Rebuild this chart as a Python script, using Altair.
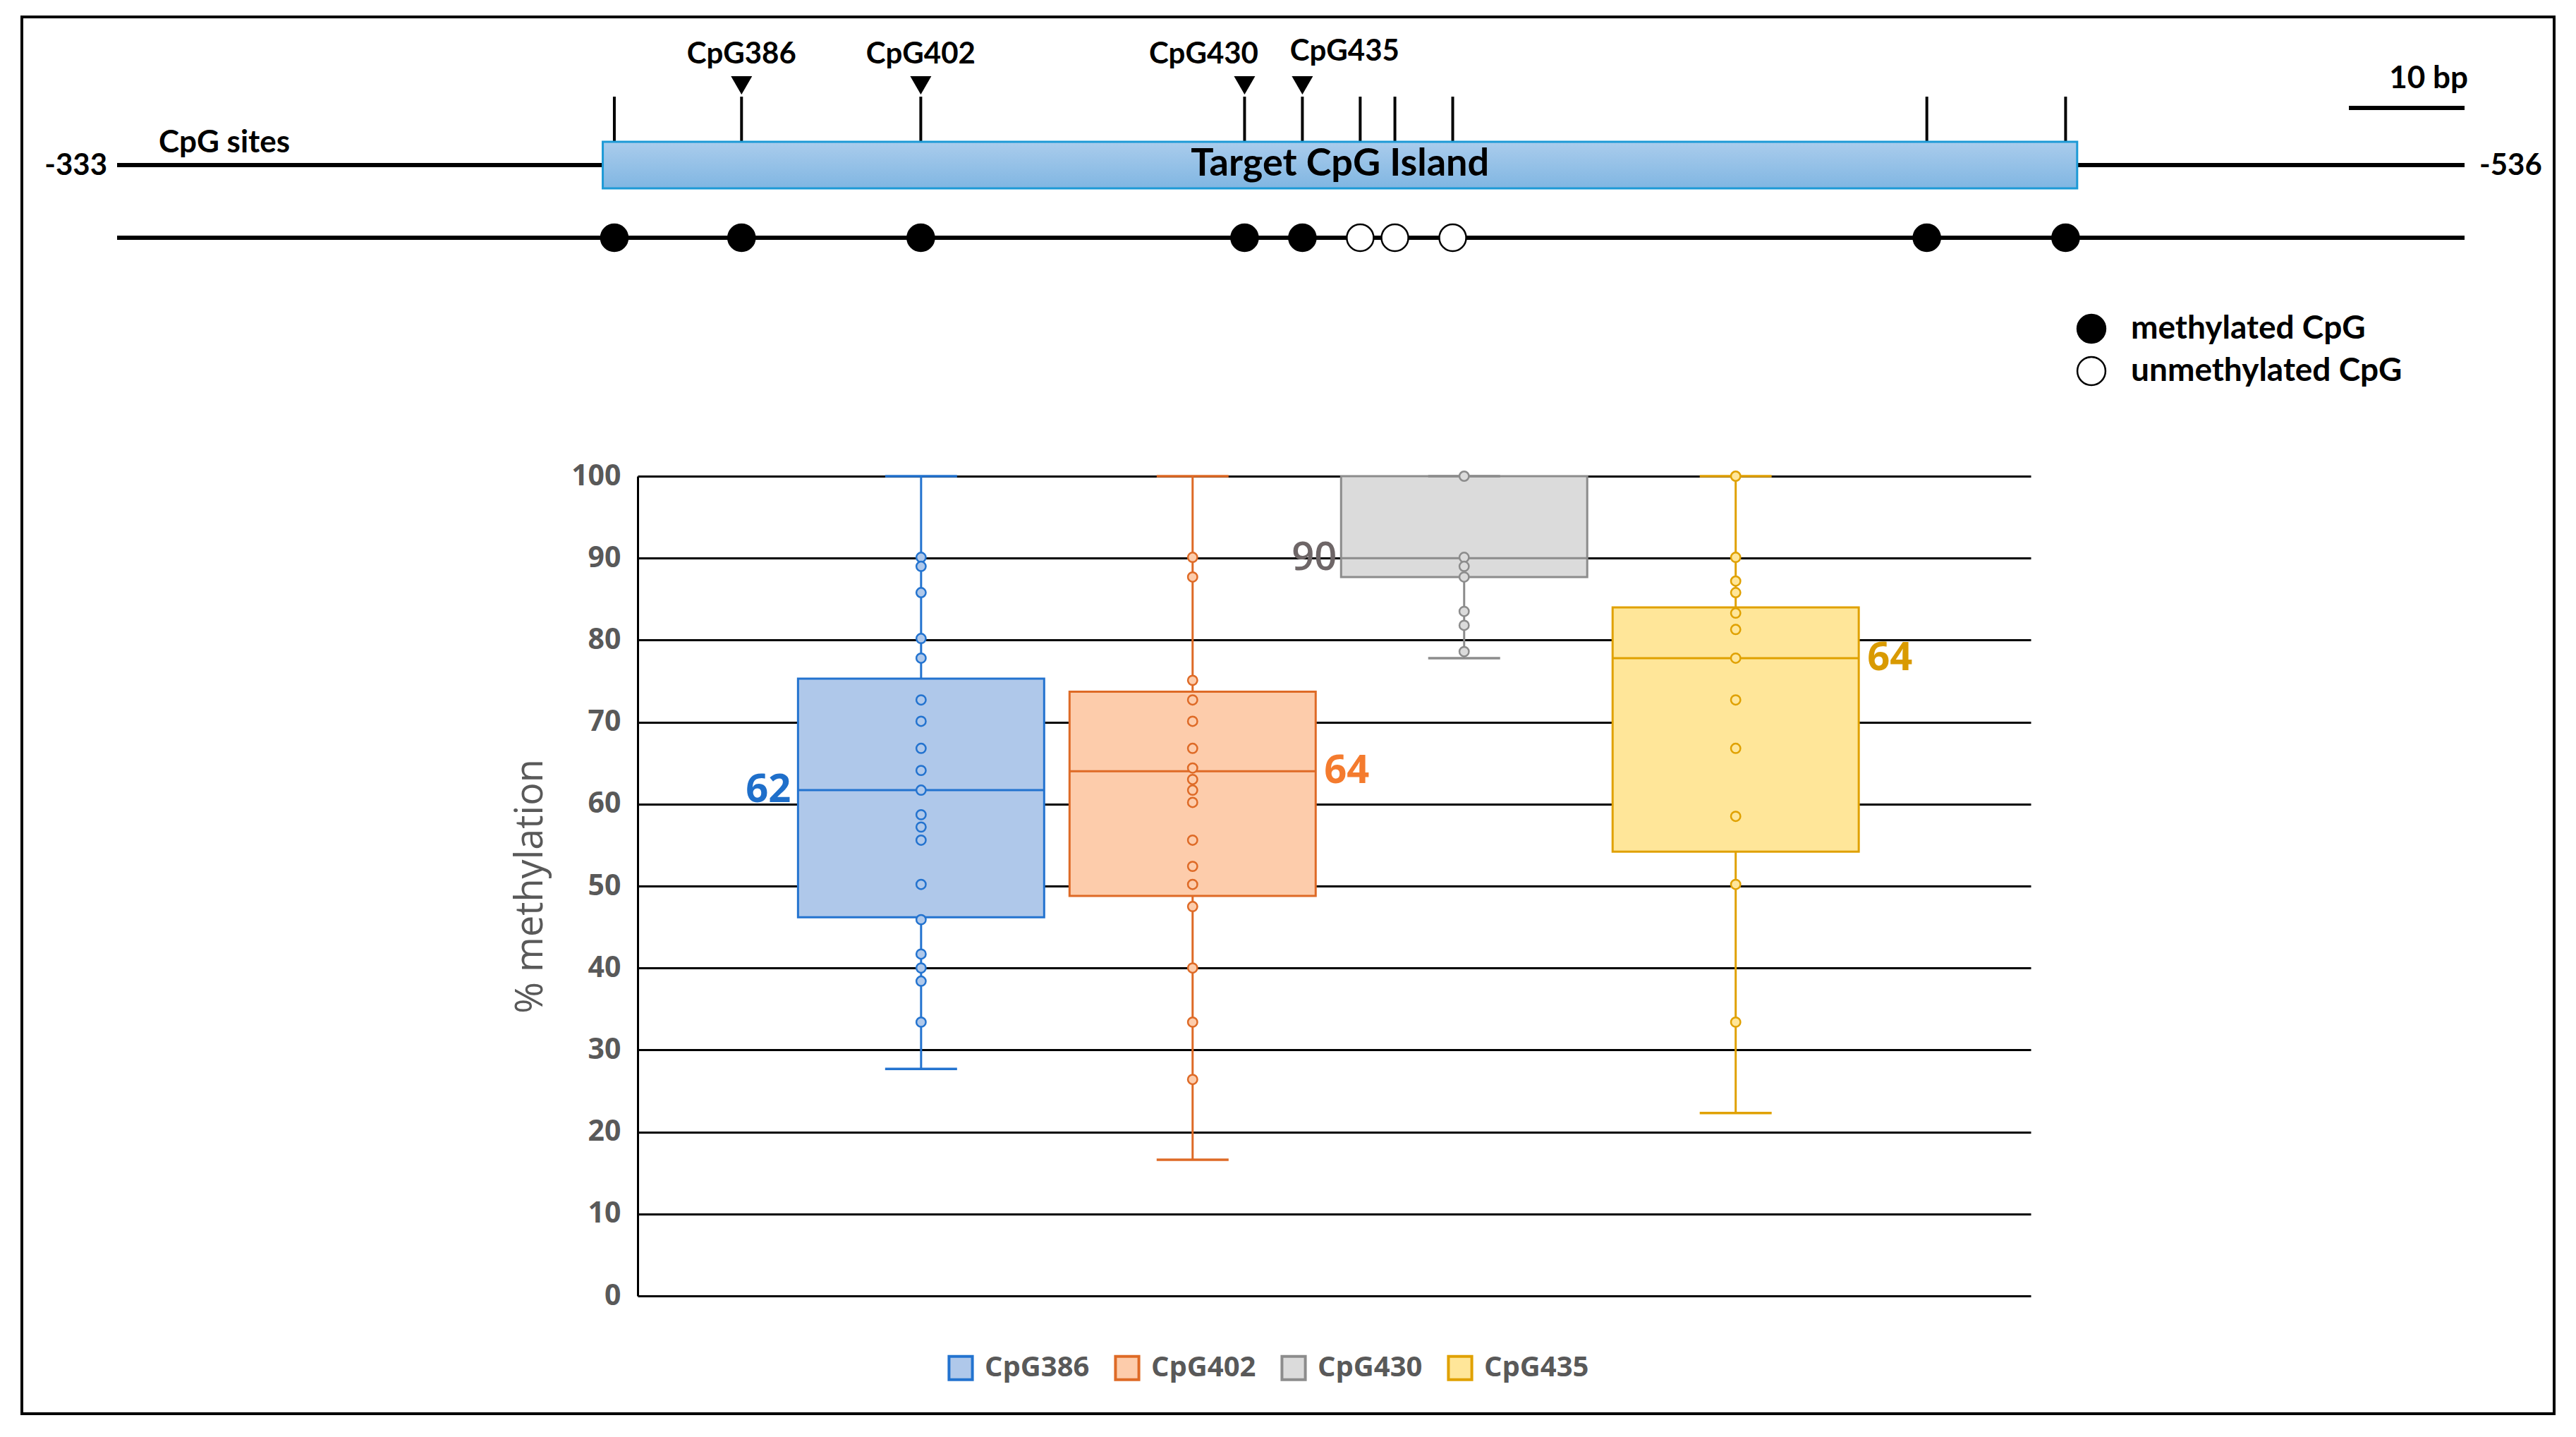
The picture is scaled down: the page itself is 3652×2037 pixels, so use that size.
import altair as alt
import pandas as pd

# ---------------- data ----------------
categories = ["CpG386", "CpG402", "CpG430", "CpG435"]
q1 = [46.2, 48.8, 87.7, 54.2]
median = [61.7, 64.0, 90.0, 77.8]
q3 = [75.3, 73.7, 100.0, 84.0]
whisker_low = [27.7, 16.6, 77.8, 22.3]
whisker_high = [100.0, 100.0, 100.0, 100.0]
median_labels = ["62", "64", "90", "64"]
label_side = ["left", "right", "left", "right"]

points_386 = [90.1, 89.0, 85.8, 80.2, 77.8, 72.7, 70.1, 66.8, 64.1, 61.7, 58.7,
              57.2, 55.6, 50.2, 45.9, 41.7, 40.0, 38.4, 33.4]
points_402 = [90.1, 87.7, 75.1, 72.7, 70.1, 66.8, 64.4, 63.0, 61.7, 60.2, 55.6,
              52.4, 50.2, 47.5, 40.0, 33.4, 26.4]
points_430 = [100.0, 90.1, 89.0, 87.7, 83.5, 81.8, 78.6]
points_435 = [100.0, 90.1, 87.2, 85.8, 83.3, 81.3, 77.8, 72.7, 66.8, 58.5, 50.2, 33.4]

y_ticks = [0, 10, 20, 30, 40, 50, 60, 70, 80, 90, 100]

region_ends = [-333, -536]
island = [-375, -502.5]
site_positions = [-376, -387, -402.5, -430.5, -435.5, -440.5, -443.5, -448.5, -489.5, -501.5]
site_status = ["methylated CpG"] * 5 + ["unmethylated CpG"] * 3 + ["methylated CpG"] * 2
marked_sites = ["CpG386", "CpG402", "CpG430", "CpG435"]
marked_positions = [-387, -402.5, -430.5, -435.5]
scale_bar = [-526, -536]
status_order = ["methylated CpG", "unmethylated CpG"]

# ---------------- styles ----------------
FILL = ["#AFC8EA", "#FDCCAB", "#DBDBDB", "#FFE699"]
STROKE = ["#2373CF", "#DE6A26", "#8C8C8C", "#E0A100"]
LABEL_COL = ["#1F6FCA", "#F47B2E", "#6E6667", "#D99A00"]
GREY_TXT = "#595959"
BOX_FONT = "Open Sans"
DIA_FONT = "Lato"

# ---------------- layout (pixels; plot area = the box-plot area) ----------------
PW, PH = 1975, 1162            # box-plot plot area
FX0, FY0 = 873, 651            # plot-area origin measured from the outer frame's corner
FRAME_W, FRAME_H = 3590, 1980  # outer frame


def fy(v):
    """vertical layout position, given from the frame's top edge"""
    return v - FY0


BP_RANGE = [135 - FX0, 3463 - FX0]
Y_LINE1, Y_LINE2 = fy(210), fy(313)
Y_ISL_TOP, Y_ISL_BOT = fy(177), fy(243)
Y_TICK_TOP = fy(113)
Y_TRI = fy(97)
Y_SITE_LABEL = fy(66)
Y_SCALEBAR = fy(129)
Y_SCALE_TXT = fy(101)
Y_SITES_TXT = fy(192)
BAND = 349

# ---------------- tables ----------------
summary = pd.DataFrame({"cat": categories, "q1": q1, "median": median, "q3": q3,
                        "lo": whisker_low, "hi": whisker_high,
                        "label": median_labels, "side": label_side})
pts = pd.DataFrame(
    [{"cat": c, "value": v} for c, vals in zip(categories, [points_386, points_402, points_430, points_435]) for v in vals]
)
ends_df = pd.DataFrame({"start": [region_ends[0]], "end": [region_ends[1]],
                        "start_lbl": [str(region_ends[0])], "end_lbl": [str(region_ends[1])]})
island_df = pd.DataFrame({"start": [island[0]], "end": [island[1]], "name": ["Target CpG Island"]})
sites_df = pd.DataFrame({"pos": site_positions, "status": site_status})
marked_df = pd.DataFrame({"name": marked_sites, "pos": marked_positions})
bar_df = pd.DataFrame({"start": [scale_bar[0]], "end": [scale_bar[1]],
                       "txt": [f"{abs(scale_bar[0] - scale_bar[1])} bp"]})
frame_df = pd.DataFrame({"frame": ["border"]})

# ---------------- box plot ----------------
xband = alt.X("cat:N", scale=alt.Scale(domain=categories, paddingInner=0.0935,
                                        paddingOuter=0.612, align=0.4825),
              axis=None)
yscale = alt.Scale(domain=[0, 100], nice=False, zero=True)

y_axis = alt.Axis(values=y_ticks, orient="left", grid=True,
                  gridColor="black", gridWidth=3, gridOpacity=1, domainColor="black", domainWidth=3,
                  ticks=False, labelFont=BOX_FONT, labelFontWeight="bold", labelFontSize=41,
                  labelColor=GREY_TXT, labelPadding=24, title="% methylation", titleFont=BOX_FONT,
                  titleFontWeight=500, titleFontSize=54, titleColor=GREY_TXT, titlePadding=30)


def yq(field):
    return alt.Y(field, scale=yscale, axis=y_axis)


cat_legend = alt.Legend(orient="none", legendX=438, legendY=1244, direction="horizontal", title=None,
                        symbolType="square", symbolSize=1100, symbolStrokeWidth=4,
                        labelFont=BOX_FONT, labelFontWeight="bold", labelFontSize=40, labelLimit=0,
                        labelColor=GREY_TXT, labelOffset=14, columnPadding=28, padding=0)

fill_scale = alt.Scale(domain=categories, range=FILL)
stroke_scale = alt.Scale(domain=categories, range=STROKE)

base_box = alt.Chart(summary)

whisker = base_box.mark_rule(strokeWidth=3).encode(
    x=xband,
    y=yq("lo:Q"),
    y2="hi:Q",
    color=alt.Color("cat:N", scale=stroke_scale, legend=None),
)
box = base_box.mark_bar(strokeWidth=3).encode(
    x=xband,
    y=yq("q1:Q"),
    y2="q3:Q",
    fill=alt.Fill("cat:N", scale=fill_scale, legend=cat_legend),
    stroke=alt.Stroke("cat:N", scale=stroke_scale, legend=cat_legend),
)
median_tick = base_box.mark_tick(size=BAND, thickness=3, opacity=1).encode(
    x=xband,
    y=yq("median:Q"),
    color=alt.Color("cat:N", scale=stroke_scale, legend=None),
)
cap_lo = base_box.mark_tick(size=102, thickness=3.5, opacity=1).encode(
    x=xband,
    y=yq("lo:Q"),
    color=alt.Color("cat:N", scale=stroke_scale, legend=None),
)
cap_hi = base_box.mark_tick(size=102, thickness=3.5, opacity=1).encode(
    x=xband,
    y=yq("hi:Q"),
    color=alt.Color("cat:N", scale=stroke_scale, legend=None),
)
points = alt.Chart(pts).mark_point(shape="circle", filled=True, size=180, strokeWidth=2.5, opacity=1).encode(
    x=xband,
    y=yq("value:Q"),
    fill=alt.Fill("cat:N", scale=fill_scale, legend=None),
    stroke=alt.Stroke("cat:N", scale=stroke_scale, legend=None),
)
label_color = alt.Color("cat:N", scale=alt.Scale(domain=categories, range=LABEL_COL), legend=None)
lab_left = base_box.mark_text(align="right", baseline="middle", dx=-(BAND / 2 + 10), font=BOX_FONT,
                              fontWeight="bold", fontSize=56).encode(
    x=xband, y=yq("median:Q"), text="label:N", color=label_color
).transform_filter((alt.datum.side == "left") & (alt.datum.cat != "CpG430"))
lab_left_plain = base_box.mark_text(align="right", baseline="middle", dx=-(BAND / 2 + 6), font=BOX_FONT,
                                    fontWeight=600, fontSize=56).encode(
    x=xband, y=yq("median:Q"), text="label:N", color=label_color
).transform_filter((alt.datum.side == "left") & (alt.datum.cat == "CpG430"))
lab_right = base_box.mark_text(align="left", baseline="middle", dx=(BAND / 2 + 12), font=BOX_FONT,
                               fontWeight="bold", fontSize=56).encode(
    x=xband, y=yq("median:Q"), text="label:N", color=label_color
).transform_filter(alt.datum.side == "right")
labels = alt.layer(lab_left, lab_left_plain, lab_right)

box_layer = alt.layer(whisker, box, median_tick, cap_lo, cap_hi, points, labels).resolve_scale(color="independent")

# ---------------- gene diagram ----------------
bp_scale = alt.Scale(domain=[region_ends[0], region_ends[1]], range=BP_RANGE, nice=False, zero=False)


def bpx(field):
    return alt.X(field, scale=bp_scale, axis=None)


frame = alt.Chart(frame_df).mark_rect(fill="transparent", stroke="black", strokeWidth=4).encode(
    x=alt.value(-FX0), x2=alt.value(FRAME_W - FX0), y=alt.value(-FY0), y2=alt.value(FRAME_H - FY0))

line1 = alt.Chart(ends_df).mark_rule(strokeWidth=6, color="black").encode(
    x=bpx("start:Q"), x2="end:Q", y=alt.value(Y_LINE1))
line2 = alt.Chart(ends_df).mark_rule(strokeWidth=6, color="black").encode(
    x=bpx("start:Q"), x2="end:Q", y=alt.value(Y_LINE2))
gradient = alt.Gradient(gradient="linear",
                        stops=[alt.GradientStop(color="#AACCEC", offset=0),
                               alt.GradientStop(color="#80B6E2", offset=1)],
                        x1=0, x2=0, y1=0, y2=1)
isl = alt.Chart(island_df).mark_rect(fill=gradient, stroke="#1D9AD6", strokeWidth=3).encode(
    x=bpx("start:Q"), x2="end:Q", y=alt.value(Y_ISL_TOP), y2=alt.value(Y_ISL_BOT))
isl_txt = alt.Chart(island_df).transform_calculate(mid="(datum.start + datum.end) / 2").mark_text(
    font=DIA_FONT, fontWeight="bold", fontSize=54, color="black", baseline="middle").encode(
    x=bpx("mid:Q"), y=alt.value(Y_LINE1 - 1), text="name:N")
ticks = alt.Chart(sites_df).mark_rule(strokeWidth=4, color="black").encode(
    x=bpx("pos:Q"), y=alt.value(Y_TICK_TOP), y2=alt.value(Y_ISL_TOP))
status_legend = alt.Legend(orient="none", legendX=2038, legendY=fy(419), direction="vertical", title=None,
                           symbolType="circle", symbolSize=1590, symbolStrokeColor="black",
                           symbolStrokeWidth=2.5, labelFont=DIA_FONT, labelFontWeight="bold",
                           labelFontSize=46, labelColor="black", labelOffset=33, labelLimit=0,
                           rowPadding=10, padding=0)
circles = alt.Chart(sites_df).mark_point(shape="circle", filled=True, size=1450, stroke="black",
                                         strokeWidth=2.5, opacity=1).encode(
    x=bpx("pos:Q"), y=alt.value(Y_LINE2),
    fill=alt.Fill("status:N", scale=alt.Scale(domain=status_order, range=["black", "white"]),
                  legend=status_legend))
tris = alt.Chart(marked_df).mark_point(shape="triangle-down", filled=True, size=900, color="black",
                                       opacity=1).encode(x=bpx("pos:Q"), y=alt.value(Y_TRI))
site_txt_kw = dict(font=DIA_FONT, fontWeight="bold", fontSize=42, color="black", baseline="alphabetic")
site_lab_a = alt.Chart(marked_df).mark_text(**site_txt_kw).encode(
    x=bpx("pos:Q"), y=alt.value(Y_SITE_LABEL), text="name:N"
).transform_filter(alt.FieldOneOfPredicate(field="name", oneOf=["CpG386", "CpG402"]))
site_lab_b = alt.Chart(marked_df).mark_text(dx=-58, **site_txt_kw).encode(
    x=bpx("pos:Q"), y=alt.value(Y_SITE_LABEL), text="name:N"
).transform_filter(alt.datum.name == "CpG430")
site_lab_c = alt.Chart(marked_df).mark_text(dx=60, **site_txt_kw).encode(
    x=bpx("pos:Q"), y=alt.value(Y_SITE_LABEL - 4), text="name:N"
).transform_filter(alt.datum.name == "CpG435")
cpg_sites_txt = alt.Chart(ends_df).mark_text(align="left", dx=59, **{**site_txt_kw, "fontSize": 44}).encode(
    x=bpx("start:Q"), y=alt.value(Y_SITES_TXT), text=alt.value("CpG sites"))
start_txt = alt.Chart(ends_df).mark_text(align="right", dx=-14, font=DIA_FONT, fontWeight="bold",
                                          fontSize=42, color="black", baseline="middle").encode(
    x=bpx("start:Q"), y=alt.value(Y_LINE1 + 1), text="start_lbl:N")
end_txt = alt.Chart(ends_df).mark_text(align="left", dx=21, font=DIA_FONT, fontWeight="bold",
                                        fontSize=42, color="black", baseline="middle").encode(
    x=bpx("end:Q"), y=alt.value(Y_LINE1 + 1), text="end_lbl:N")
sbar = alt.Chart(bar_df).mark_rule(strokeWidth=6, color="black").encode(
    x=bpx("start:Q"), x2="end:Q", y=alt.value(Y_SCALEBAR))
sbar_txt = alt.Chart(bar_df).transform_calculate(mid="(datum.start + datum.end) / 2").mark_text(
    dx=31, **{**site_txt_kw, "fontSize": 44}).encode(
    x=bpx("mid:Q"), y=alt.value(Y_SCALE_TXT), text="txt:N")

diagram_layer = alt.layer(frame, line1, line2, ticks, isl, isl_txt, circles, tris,
                          site_lab_a, site_lab_b, site_lab_c, cpg_sites_txt, start_txt, end_txt,
                          sbar, sbar_txt)

PAD_L, PAD_T = 31 - 8 + FX0, 24 - 8 + FY0
chart = alt.layer(box_layer, diagram_layer).resolve_scale(
    x="independent", fill="independent", stroke="independent", color="independent"
).properties(
    width=PW, height=PH,
    autosize=alt.AutoSizeParams(type="none"),
    padding={"left": PAD_L, "top": PAD_T, "right": 3636 - PAD_L - PW, "bottom": 2021 - PAD_T - PH},
    background="white",
).configure_view(stroke=None, fill="white")

chart.save("out.html", embed_options={"renderer": "svg", "actions": False})
